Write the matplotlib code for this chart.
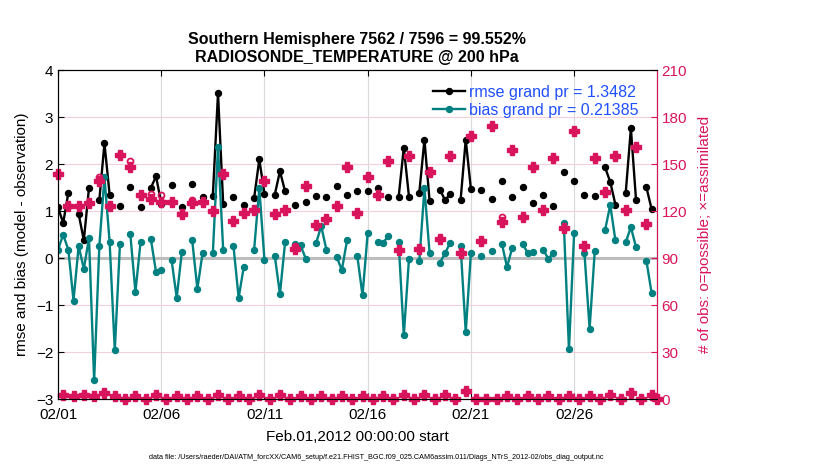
import numpy as np
import matplotlib
matplotlib.use("Agg")
import matplotlib.pyplot as plt
from matplotlib.lines import Line2D

plt.rcParams['font.family'] = ['Liberation Sans', 'DejaVu Sans']

nan = np.nan

# 6-hourly bins from 02/01 00Z to 03/01 00Z (117 bins)
rmse = [1.08, 0.75, 1.39, nan, 0.94, 0.38, 1.49, nan, 1.23, 2.44,
        1.35, nan, 1.12, nan, 1.51, nan, 1.08, nan, 1.50, 1.74,
        1.16, nan, 1.55, nan, 1.08, nan, 1.57, nan, 1.30, nan,
        1.33, 3.51, 1.16, nan, 1.31, nan, 1.14, nan, 1.28, 2.10,
        1.37, nan, 1.35, 1.85, 1.42, nan, 1.14, nan, 1.20, nan,
        1.33, nan, 1.30, nan, 1.53, nan, 1.35, nan, 1.42, nan,
        1.42, nan, 1.49, nan, 1.30, nan, 1.30, 2.35, 1.31, nan,
        1.39, 2.52, 1.21, nan, 1.46, 1.23, 1.37, nan, 1.23, 2.52,
        1.47, nan, 1.44, nan, 1.26, nan, 1.64, nan, 1.31, nan,
        1.51, nan, 1.18, nan, 1.35, nan, 1.12, nan, 1.84, nan,
        1.65, nan, 1.35, nan, 1.33, nan, 1.93, 1.62, 1.14, nan,
        1.39, 2.76, 1.23, nan, 1.51, 1.05, nan]

bias = [0.18, 0.50, 0.18, -0.90, 0.26, -0.23, 0.43, -2.60, 0.25, 1.72,
        0.34, -1.96, 0.30, nan, 0.52, -0.72, 0.35, nan, 0.40, -0.30,
        -0.25, nan, -0.04, -0.84, 0.14, nan, 0.38, -0.65, 0.10, nan,
        0.11, 2.36, 0.18, nan, 0.25, -0.84, -0.18, nan, 0.18, 1.49,
        -0.04, nan, 0.05, -0.76, 0.34, nan, 0.30, 0.27, -0.01, nan,
        0.32, 0.68, 0.18, nan, 0.02, -0.25, 0.38, nan, 0.04, -0.79,
        0.53, nan, 0.34, 0.32, 0.48, nan, 0.34, -1.64, -0.02, nan,
        -0.07, 1.49, 0.10, nan, -0.10, 0.11, 0.33, nan, 0.26, -1.57,
        0.11, nan, 0.04, nan, 0.15, nan, 0.31, -0.19, 0.22, nan,
        0.31, 0.11, 0.13, nan, 0.18, -0.01, 0.11, nan, 0.74, -1.94,
        0.53, nan, 0.11, -1.50, 0.15, nan, 0.60, 1.13, 0.38, nan,
        0.34, 0.66, 0.23, nan, -0.05, -0.73, nan]

n_assim = [144, 3, 123, 2, 123, 3, 125, 2, 139, 4,
           123, 2, 156, 0, 148, 2, 130, 0, 128, 3,
           126, 0, 126, 2, 118, 0, 125, 2, 126, 0,
           120, 3, 144, 0, 114, 2, 119, 0, 121, 3,
           139, 0, 118, 3, 121, 0, 96, 2, 136, 0,
           111, 2, 115, 0, 123, 2, 148, 0, 119, 2,
           142, 0, 130, 2, 152, 0, 95, 3, 155, 0,
           96, 3, 145, 0, 102, 3, 155, 0, 93, 5,
           168, 0, 101, 0, 174, 0, 113, 2, 159, 0,
           116, 2, 148, 0, 121, 2, 154, 0, 109, 2,
           171, 0, 98, 2, 154, 0, 132, 3, 155, 0,
           121, 4, 161, 0, 112, 3, 0]

# possible counts differ from assimilated only in a few bins
n_poss = list(n_assim)
for b, v in {8: 142, 14: 152, 18: 131, 20: 130, 26: 127, 46: 98, 86: 116}.items():
    n_poss[b] = v

tick_days = [0, 5, 10, 15, 20, 25]
tick_labels = ['02/01', '02/06', '02/11', '02/16', '02/21', '02/26']

days = np.arange(len(rmse)) * 0.25

pink = '#d8155c'
teal = '#008080'
blue = '#1f4fff'

fig = plt.figure(figsize=(8.3, 4.7), dpi=100)
ax1 = fig.add_axes([0.0699, 0.1504, 0.7213, 0.7006])

ax1.axhline(0, color='#bdbdbd', lw=2.2, zorder=1)
ax1.plot(days, rmse, '-o', color='k', lw=1.7, ms=4.3, zorder=3)
ax1.plot(days, bias, '-o', color=teal, lw=1.7, ms=4.3, zorder=4)

ax1.set_xlim(0, 29)
ax1.set_ylim(-3, 4)
ax1.set_yticks(range(-3, 5))
ax1.set_xticks(tick_days)
ax1.set_xticklabels(tick_labels)
for d in tick_days[1:]:
    ax1.axvline(d, color='#d9d9d9', lw=0.8, zorder=0)
for v in [-2, -1, 1, 2, 3]:
    ax1.axhline(v, color='#f3cfdc', lw=0.8, zorder=0)
ax1.tick_params(direction='in', labelsize=11, top=True, length=4)
ax1.tick_params(axis='x', pad=6.5)
ax1.set_ylabel('rmse and bias (model - observation)', fontsize=11, labelpad=5)
ax1.set_xlabel('Feb.01,2012 00:00:00 start', fontsize=11, labelpad=5.5)
ax1.set_title('Southern Hemisphere 7562 / 7596 = 99.552%\nRADIOSONDE_TEMPERATURE @ 200 hPa',
              fontsize=11.5, fontweight='bold', pad=6, linespacing=1.2)

handles = [Line2D([], [], color='k', marker='o', lw=1.7, ms=4.3),
           Line2D([], [], color=teal, marker='o', lw=1.7, ms=4.3)]
ax1.legend(handles, ['rmse grand pr = 1.3482', 'bias grand pr = 0.21385'],
           loc='upper right', bbox_to_anchor=(0.985, 0.985), frameon=False,
           fontsize=11.5, labelcolor=blue, handlelength=2.0, handletextpad=0.2,
           labelspacing=0.2, borderaxespad=0.2)

ax2 = ax1.twinx()
ax2.plot(days, n_poss, 'o', mfc='none', mec=pink, mew=1.3, ms=4.3, clip_on=False)
ax2.plot(days, n_assim, 'P', color=pink, ms=6.8, clip_on=False)
ax2.set_ylim(0, 210)
ax2.set_yticks(range(0, 211, 30))
ax2.tick_params(direction='in', labelsize=11, colors=pink, length=4)
ax2.spines['right'].set_color(pink)
ax2.set_ylabel('# of obs: o=possible; \u00d7=assimilated', color=pink, fontsize=11, labelpad=8)

fig.text(0.453, 0.027, 'data file: /Users/raeder/DAI/ATM_forcXX/CAM6_setup/f.e21.FHIST_BGC.f09_025.CAM6assim.011/Diags_NTrS_2012-02/obs_diag_output.nc',
         fontsize=5.2, ha='center', va='center')

fig.savefig('out.png', dpi=100)
